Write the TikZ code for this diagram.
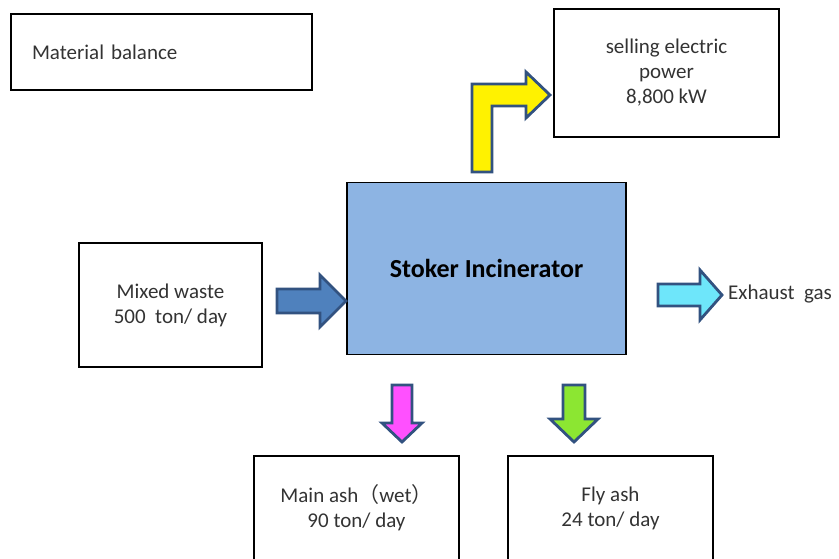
\documentclass[tikz,border=0pt]{standalone}
\usepackage{fontspec}
\setmainfont{Carlito}
\newfontfamily\cjkfont{Noto Sans CJK JP}
\definecolor{incinfill}{RGB}{141,180,227}
\definecolor{arrowedge}{RGB}{50,82,128}
\definecolor{wasteblue}{RGB}{79,129,189}
\definecolor{gascyan}{RGB}{110,230,250}
\definecolor{ashpink}{RGB}{255,80,255}
\definecolor{flygreen}{RGB}{140,230,50}
\begin{document}
\begin{tikzpicture}[x=1pt, y=-1pt, font=\fontsize{21}{25}\selectfont,
  box/.style={draw, line width=1.8pt, align=center, inner sep=0pt, text=black!80},
  blockarrow/.style={draw=arrowedge, line width=2.8pt, line join=miter}]
  \useasboundingbox (0,0) rectangle (839,559);
  % boxes
  \node[box, minimum width=301pt, minimum height=76pt, text width=259pt, align=left] (balance) at (161.5,52) {Material balance};
  \node[box, minimum width=225pt, minimum height=128pt] (power) at (666.5,73) {selling electric\\power\\8,800 kW};
  \node[box, minimum width=183pt, minimum height=124pt] (waste) at (170.5,305) {Mixed waste\\500\ \ ton/ day};
  \node[box, fill=incinfill, minimum width=279pt, minimum height=172pt, text=black, font=\fontsize{26}{30}\selectfont\bfseries] (incin) at (486.5,268.5) {Stoker Incinerator};
  \node[box, minimum width=205pt, minimum height=104pt] (mainash) at (356.5,508) {Main ash{\cjkfont （}wet{\cjkfont ）}\\90 ton/ day};
  \node[box, minimum width=205pt, minimum height=104pt] (flyash) at (610.5,508) {Fly ash\\24 ton/ day};
  \node[anchor=west, inner sep=0pt, text=black!80] (gas) at (728,294) {Exhaust\ \ gas};
  % block arrows
  \draw[blockarrow, fill=wasteblue] (277,289)--(320,289)--(320,275)--(346,301)--(320,327)--(320,313)--(277,313)--cycle;
  \draw[blockarrow, fill=yellow] (472,172)--(472,84)--(526,84)--(526,72)--(550,95)--(526,118)--(526,106)--(492,106)--(492,172)--cycle;
  \draw[blockarrow, fill=gascyan] (658,284)--(700,284)--(700,270)--(722,295)--(700,320)--(700,306)--(658,306)--cycle;
  \draw[blockarrow, fill=ashpink] (392,385)--(412,385)--(412,423)--(422,423)--(402,442)--(382,423)--(392,423)--cycle;
  \draw[blockarrow, fill=flygreen] (563,385)--(585,385)--(585,419)--(598,419)--(574,442)--(550,419)--(563,419)--cycle;
\end{tikzpicture}
\end{document}
